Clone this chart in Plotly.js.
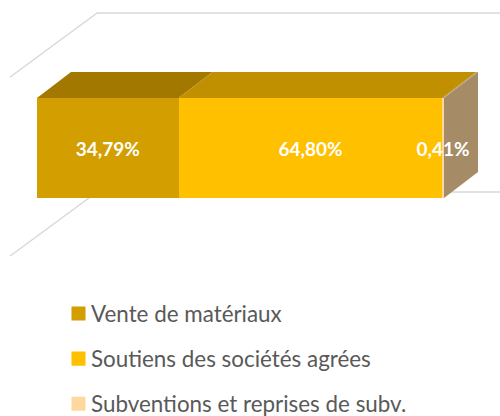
<!DOCTYPE html>
<html><head><meta charset="utf-8">
<script src="https://cdn.plot.ly/plotly-3.0.1.min.js"></script>
<style>html,body{margin:0;padding:0;background:#fff}#c{width:500px;height:416px}</style></head>
<body><div id="c"></div>
<script>
const seriesNames = ["Vente de matériaux", "Soutiens des sociétés agrées", "Subventions et reprises de subv."];
const seriesValues = [34.79, 64.80, 0.41];
const seriesLabels = ["34,79%", "64,80%", "0,41%"];
const frontColors = ["#d39e00", "#ffc000", "#ffd8a0"];
const topColors = ["#a37800", "#c09000", "#b89a70"];
const sideColor = "#a68c66";
const wallColor = "#d9d9d9";

// axis scale: 0-100 % spans the front of the bar, bar height is 1 unit
const W = 500, H = 416, x0 = 37, pxPerPct = 4.07, y0 = 148, pxPerUnit = 100;
const xRange = [-x0 / pxPerPct, (W - x0) / pxPerPct];
const yRange = [(y0 - H) / pxPerUnit, y0 / pxPerUnit];
const dx = 34 / pxPerPct, dy = 0.26;
const wallDx = 87 / pxPerPct, wallDy = 0.64;
const wallLeft = -6.6, wallEnd = xRange[1];
const wallLevels = [1.35, -0.44];

const path = pts => "M" + pts.map(p => p.join(",")).join("L") + "Z";
const open = pts => "M" + pts.map(p => p.join(",")).join("L");
const shapes = [];
wallLevels.forEach(l => shapes.push({type: "path", layer: "below", xref: "x", yref: "y",
  path: open([[wallLeft, l - wallDy], [wallLeft + wallDx, l], [wallEnd, l]]),
  line: {color: wallColor, width: 1.5}}));
let cum = 0;
seriesValues.forEach((v, i) => {
  shapes.push({type: "path", layer: "below", xref: "x", yref: "y",
    path: path([[cum, 0.5], [cum + v, 0.5], [cum + v + dx, 0.5 + dy], [cum + dx, 0.5 + dy]]),
    fillcolor: topColors[i], line: {width: 0}});
  cum += v;
});
shapes.push({type: "path", layer: "below", xref: "x", yref: "y",
  path: path([[cum, -0.5], [cum, 0.5], [cum + dx, 0.5 + dy], [cum + dx, -0.5 + dy]]),
  fillcolor: sideColor, line: {width: 0}});

const traces = seriesNames.map((n, i) => ({
  type: "bar", orientation: "h", name: n, y: [0], x: [seriesValues[i]], width: 1,
  legendgroup: "g" + i,
  marker: {color: frontColors[i], line: {width: 0}},
  text: [seriesLabels[i]], textposition: "inside", insidetextanchor: "middle",
  constraintext: "none", textangle: 0, cliponaxis: false,
  insidetextfont: {family: "Lato, Carlito, sans-serif", size: 19, color: "#ffffff", weight: 700},
  hoverinfo: "name+x"
}));

Plotly.newPlot("c", traces, {
  width: W, height: H, margin: {l: 0, r: 0, t: 0, b: 0, autoexpand: false},
  paper_bgcolor: "#fff", plot_bgcolor: "#fff", barmode: "stack",
  xaxis: {range: xRange, visible: false, fixedrange: true},
  yaxis: {range: yRange, visible: false, fixedrange: true},
  shapes: shapes,
  showlegend: true,
  legend: {x: 0.102, xanchor: "left", y: 0.297, yanchor: "top", traceorder: "grouped", tracegroupgap: 13,
    itemwidth: 30, itemclick: false, itemdoubleclick: false,
    font: {family: "Lato, Carlito, sans-serif", size: 22.4, color: "#595959"}, bgcolor: "rgba(0,0,0,0)"}
}, {displayModeBar: false}).then(gd => {
  // the reference's swatches are a little larger and sit closer to their text
  gd.querySelectorAll(".legendsymbols .legendpoints path").forEach(p => {
    p.setAttribute("transform", (p.getAttribute("transform") || "") + " translate(7.5,0) scale(1.17)");
  });
});
</script></body></html>
